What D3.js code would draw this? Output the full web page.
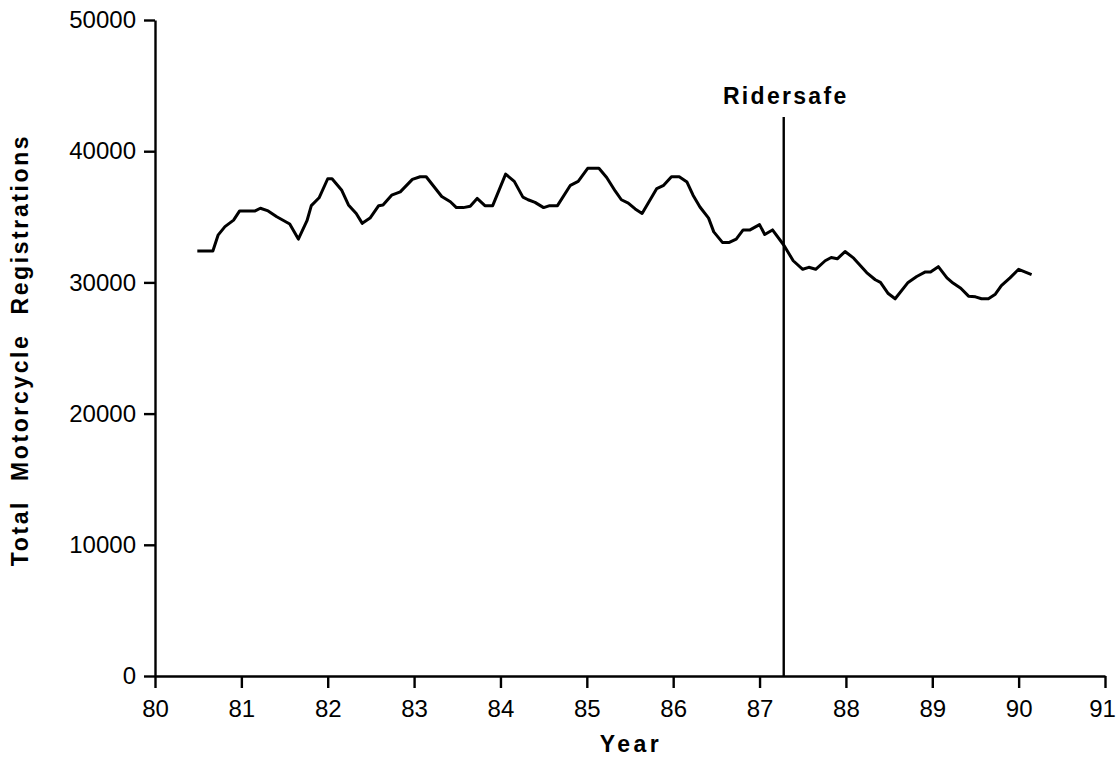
<!DOCTYPE html>
<html>
<head>
<meta charset="utf-8">
<script src="https://cdn.jsdelivr.net/npm/d3@7"></script>
<style>
  body { margin: 0; background: #fff; }
  .axis text { font-family: "Liberation Sans", Arial, sans-serif; font-size: 24px; fill: #000; }
  .axis path, .axis line { stroke: #000; stroke-width: 2.4; }
  .title { font-family: "Liberation Sans", Arial, sans-serif; font-weight: bold; font-size: 23px; fill: #000; }
</style>
</head>
<body>
<div class="canvas"></div>
<script>
// values (year as decimal, e.g. 80.5 = mid 1980)
const years = [80.49, 80.67, 80.73, 80.81, 80.91, 80.98, 81.16, 81.22, 81.31, 81.41,
  81.56, 81.66, 81.76, 81.81, 81.90, 82.00, 82.05, 82.16, 82.24, 82.33,
  82.40, 82.49, 82.59, 82.64, 82.74, 82.84, 82.98, 83.07, 83.14, 83.32,
  83.42, 83.49, 83.57, 83.65, 83.73, 83.82, 83.91, 84.06, 84.16, 84.26,
  84.32, 84.40, 84.50, 84.57, 84.66, 84.81, 84.90, 85.01, 85.14, 85.23,
  85.33, 85.40, 85.48, 85.56, 85.64, 85.81, 85.89, 85.98, 86.07, 86.16,
  86.23, 86.31, 86.41, 86.47, 86.57, 86.65, 86.73, 86.81, 86.89, 87.00,
  87.06, 87.15, 87.28, 87.39, 87.50, 87.57, 87.65, 87.76, 87.83, 87.90,
  87.99, 88.09, 88.24, 88.34, 88.40, 88.49, 88.57, 88.72, 88.82, 88.92,
  88.98, 89.07, 89.17, 89.24, 89.33, 89.42, 89.50, 89.57, 89.65, 89.73,
  89.80, 89.90, 90.00, 90.15]
const registrations = [32400, 32400, 33600, 34250, 34750, 35450, 35450, 35650, 35450, 35000,
  34450, 33300, 34700, 35850, 36450, 37900, 37900, 37050, 35900, 35250,
  34500, 34900, 35850, 35900, 36650, 36900, 37850, 38050, 38050, 36550,
  36150, 35700, 35700, 35800, 36400, 35850, 35850, 38250, 37700, 36500,
  36300, 36100, 35700, 35850, 35850, 37400, 37700, 38700, 38700, 38000,
  36950, 36300, 36050, 35600, 35250, 37150, 37400, 38050, 38050, 37650,
  36650, 35750, 34900, 33850, 33050, 33050, 33300, 34000, 34000, 34400,
  33650, 34000, 32850, 31650, 31000, 31150, 31000, 31650, 31900, 31800,
  32350, 31850, 30750, 30200, 30000, 29150, 28750, 30000, 30450, 30800,
  30800, 31200, 30350, 29950, 29550, 28950, 28900, 28750, 28750, 29100,
  29750, 30350, 31000, 30600]

const xTicks = [80, 81, 82, 83, 84, 85, 86, 87, 88, 89, 90, 91]
const yTicks = [0, 10000, 20000, 30000, 40000, 50000]
const ridersafe = 87.28

const margin = { top: 20, left: 155 }
const width = 950
const height = 656

const svg = d3.select('.canvas').append('svg')
    .attr('width', 1117)
    .attr('height', 760)

const g = svg.append('g')
    .attr('transform', `translate(${margin.left}, ${margin.top})`)

const x = d3.scaleLinear().domain([80, 91]).range([0, width])
const y = d3.scaleLinear().domain([0, 50000]).range([height, 0])

// axes
const xAxis = g.append('g')
    .attr('class', 'axis')
    .attr('transform', `translate(0, ${height})`)
    .call(d3.axisBottom(x).tickValues(xTicks).tickFormat(d3.format('d'))
        .tickSize(12).tickSizeOuter(0).tickPadding(12))

// keep the last label inside the page
xAxis.selectAll('.tick text')
    .filter(d => d === 91)
    .attr('dx', -3)

g.append('g')
    .attr('class', 'axis')
    .call(d3.axisLeft(y).tickValues(yTicks).tickFormat(d3.format('d'))
        .tickSize(11).tickSizeOuter(0).tickPadding(8))

// registrations line
const line = d3.line()
    .x((d, i) => x(years[i]))
    .y(d => y(d))

g.append('path')
    .datum(registrations)
    .attr('d', line)
    .attr('fill', 'none')
    .attr('stroke', '#000')
    .attr('stroke-width', 3)
    .attr('stroke-linejoin', 'round')

// Ridersafe marker
g.append('line')
    .attr('x1', x(ridersafe))
    .attr('x2', x(ridersafe))
    .attr('y1', 97)
    .attr('y2', height)
    .attr('stroke', '#000')
    .attr('stroke-width', 2.4)

g.append('text')
    .attr('class', 'title')
    .attr('x', x(ridersafe) + 2)
    .attr('y', 84)
    .attr('text-anchor', 'middle')
    .style('letter-spacing', '2.3px')
    .text('Ridersafe')

// axis titles
svg.append('text')
    .attr('class', 'title')
    .attr('x', 631)
    .attr('y', 752)
    .attr('text-anchor', 'middle')
    .style('letter-spacing', '3.5px')
    .text('Year')

svg.append('text')
    .attr('class', 'title')
    .attr('transform', `translate(28, ${margin.top + height / 2 + 2}) rotate(-90)`)
    .attr('text-anchor', 'middle')
    .style('letter-spacing', '2.6px')
    .style('word-spacing', '10px')
    .text('Total Motorcycle Registrations')
</script>
</body>
</html>
